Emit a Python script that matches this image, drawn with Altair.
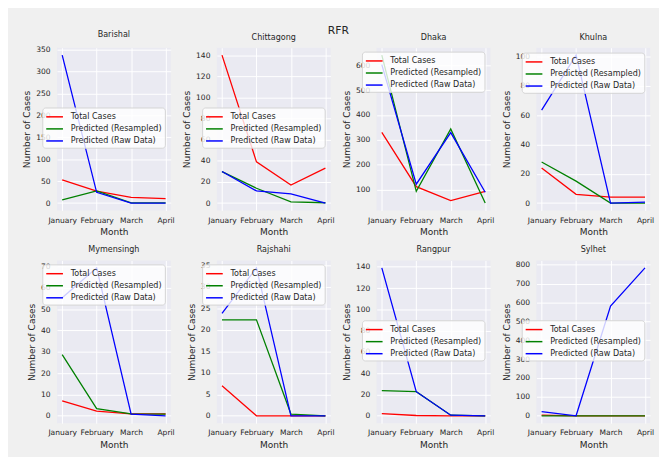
import altair as alt
import pandas as pd

months = ["January", "February", "March", "April"]
series = ["Total Cases", "Predicted (Resampled)", "Predicted (Raw Data)"]
colors = ["#ff0000", "#008000", "#0000ff"]

regions = ["Barishal", "Chittagong", "Dhaka", "Khulna",
           "Mymensingh", "Rajshahi", "Rangpur", "Sylhet"]

total = {
    "Barishal": [53, 27, 13, 10],
    "Chittagong": [140, 39, 17, 33],
    "Dhaka": [330, 112, 56, 93],
    "Khulna": [24, 6, 4, 4],
    "Mymensingh": [7, 2.2, 0.9, 0.9],
    "Rajshahi": [7, 0, 0, 0],
    "Rangpur": [2.1, 0.3, 0, 0],
    "Sylhet": [3.4, 0, 0, 0],
}
resampled = {
    "Barishal": [7.5, 27.5, 0.3, 0.3],
    "Chittagong": [29.8, 14, 1.2, 0.3],
    "Dhaka": [641, 93, 344, 46],
    "Khulna": [28, 15, 0, 0],
    "Mymensingh": [28.7, 3.4, 0.9, 0.8],
    "Rajshahi": [22.3, 22.3, 0.4, 0],
    "Rangpur": [23.6, 22.7, 0.6, 0],
    "Sylhet": [0, 0, 0, 0],
}
raw = {
    "Barishal": [337, 24.5, 0, 0],
    "Chittagong": [29.8, 11.5, 8.7, 0],
    "Dhaka": [603, 122, 329.5, 89.4],
    "Khulna": [63.5, 101, 0, 0.7],
    "Mymensingh": [55.4, 69.4, 0.8, 0],
    "Rajshahi": [23.8, 34.4, 0, 0],
    "Rangpur": [139, 22.7, 0.6, 0],
    "Sylhet": [22.4, 0, 581, 783],
}
yticks = {
    "Barishal": [0, 50, 100, 150, 200, 250, 300, 350],
    "Chittagong": [0, 20, 40, 60, 80, 100, 120, 140],
    "Dhaka": [100, 200, 300, 400, 500, 600],
    "Khulna": [0, 20, 40, 60, 80, 100],
    "Mymensingh": [0, 10, 20, 30, 40, 50, 60, 70],
    "Rajshahi": [0, 5, 10, 15, 20, 25, 30, 35],
    "Rangpur": [0, 20, 40, 60, 80, 100, 120, 140],
    "Sylhet": [0, 100, 200, 300, 400, 500, 600, 700, 800],
}
legend_y = {
    "Barishal": 61, "Chittagong": 61, "Dhaka": 4, "Khulna": 5,
    "Mymensingh": 4, "Rajshahi": 4, "Rangpur": 61, "Sylhet": 61,
}

FONT = "DejaVu Sans"
TXT = "#262626"

panels = []
for r in regions:
    rows = []
    for s, vals in zip(series, [total[r], resampled[r], raw[r]]):
        for m, v in zip(months, vals):
            rows.append({"Month": m, "Cases": v, "Series": s})
    df = pd.DataFrame(rows)
    allv = total[r] + resampled[r] + raw[r]
    lo, hi = min(allv), max(allv)
    pad = 0.05 * (hi - lo)
    ch = alt.Chart(df).mark_line(strokeWidth=1.3).encode(
        x=alt.X("Month:N", sort=months,
                scale=alt.Scale(type="point", padding=0.15),
                axis=alt.Axis(title="Month", labelAngle=0, labelPadding=6,
                              titlePadding=4)),
        y=alt.Y("Cases:Q",
                scale=alt.Scale(domain=[lo - pad, hi + pad], nice=False, zero=False),
                axis=alt.Axis(title="Number of Cases", values=yticks[r],
                              labelPadding=7, titlePadding=4)),
        color=alt.Color("Series:N",
                        scale=alt.Scale(domain=series, range=colors),
                        legend=alt.Legend(title=None, orient="none",
                                          legendX=-15, legendY=legend_y[r],
                                          direction="vertical",
                                          fillColor="rgba(255,255,255,0.8)",
                                          strokeColor="#d4d4d4", cornerRadius=3,
                                          padding=3, rowPadding=2.3,
                                          symbolType="M-1,0H2.1", symbolSize=121,
                                          symbolStrokeWidth=1.5, labelOffset=13,
                                          labelFont=FONT, labelFontSize=8.2,
                                          labelColor=TXT)),
    ).properties(
        width=116, height=166,
        title=alt.TitleParams(r, font=FONT, fontSize=8.2, fontWeight="normal",
                              color=TXT, offset=6, frame="group"),
    )
    panels.append(ch)

chart = alt.concat(*panels, columns=4, spacing={"row": 51, "column": 47},
                   bounds="flush").resolve_scale(
    x="independent", y="independent", color="independent"
).properties(
    title=alt.TitleParams("RFR", font=FONT, fontSize=11, fontWeight="normal",
                          color=TXT, anchor="middle", offset=-6),
    background="#f0f0f0",
    padding={"left": 15, "top": 13, "right": 5, "bottom": 5},
).configure_view(
    fill="#eaeaf2", strokeWidth=0
).configure_axis(
    grid=True, gridColor="white", gridWidth=1, domain=False, ticks=False,
    tickSize=0, labelColor=TXT, titleColor=TXT, labelFont=FONT, titleFont=FONT,
    labelFontSize=7.7, titleFontSize=9.2, titleFontWeight="normal"
)

chart.save("out.html", embed_options={"renderer": "svg", "actions": False})
